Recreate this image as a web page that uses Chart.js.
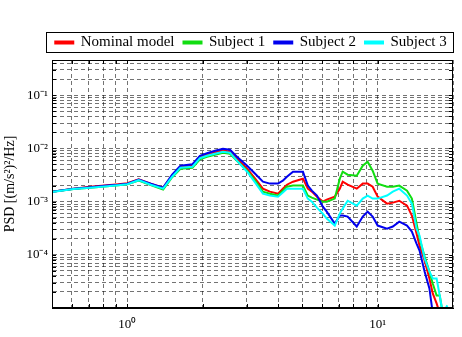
<!DOCTYPE html>
<html>
<head>
<meta charset="utf-8">
<script src="https://cdn.jsdelivr.net/npm/chart.js@4.4.0/dist/chart.umd.min.js"></script>
<style>
  html, body { margin: 0; padding: 0; background: #fff; }
</style>
</head>
<body>
<canvas id="psdChart" width="462" height="337"></canvas>
<script>
//#region data
// frequency (Hz), shared by all four curves
const freq = [0.5, 0.61, 0.71, 0.83, 0.92, 1.0, 1.11, 1.24, 1.39, 1.51,
  1.63, 1.82, 1.95, 2.08, 2.24, 2.41, 2.57, 2.74, 3.01, 3.24,
  3.48, 3.71, 4.0, 4.18, 4.34, 4.59, 5.03, 5.26, 5.46, 5.72,
  6.04, 6.26, 6.74, 7.06, 7.25, 7.59, 8.25, 8.72, 9.12, 9.55,
  10.0, 10.9, 11.5, 12.2, 13.1, 13.7, 14.3, 14.7, 15.4, 16.1,
  16.6, 17.2, 17.7, 18.2, 19.0];

// PSD values [(m/s^2)^2/Hz]
const nominal = [1.54e-3, 1.75e-3, 1.91e-3, 2.04e-3, 2.13e-3, 2.22e-3, 2.64e-3, 2.18e-3, 1.83e-3, 3.07e-3,
  4.54e-3, 4.74e-3, 6.99e-3, 7.79e-3, 8.49e-3, 9.25e-3, 8.67e-3, 6.41e-3, 4.16e-3, 2.70e-3,
  1.75e-3, 1.54e-3, 1.41e-3, 1.75e-3, 2.08e-3, 2.37e-3, 2.70e-3, 1.75e-3, 1.54e-3, 1.24e-3,
  1.00e-3, 1.09e-3, 1.24e-3, 1.75e-3, 2.37e-3, 2.08e-3, 1.75e-3, 2.18e-3, 2.18e-3, 1.91e-3,
  1.24e-3, 9.17e-4, 9.58e-4, 1.04e-3, 8.41e-4, 5.46e-4, 2.51e-4, 1.49e-4, 7.81e-5, 3.59e-5,
  1.88e-5, 1.22e-5, 8e-6, null, null];

const subject1 = [1.54e-3, 1.72e-3, 1.83e-3, 1.95e-3, 2.04e-3, 2.13e-3, 2.48e-3, 2.04e-3, 1.68e-3, 2.88e-3,
  4.16e-3, 4.35e-3, 6.27e-3, 6.99e-3, 7.62e-3, 8.31e-3, 7.96e-3, 5.88e-3, 3.82e-3, 2.48e-3,
  1.54e-3, 1.41e-3, 1.30e-3, 1.61e-3, 1.91e-3, 2.00e-3, 2.00e-3, 1.30e-3, 1.19e-3, 1.09e-3,
  1.00e-3, 1.00e-3, 1.14e-3, 2.70e-3, 3.65e-3, 3.21e-3, 3.07e-3, 4.74e-3, 5.63e-3, 3.82e-3,
  2.18e-3, 1.91e-3, 1.91e-3, 2.00e-3, 1.61e-3, 1.14e-3, 3.87e-4, 2.02e-4, 9.29e-5, 4.86e-5,
  2.89e-5, 1.72e-5, 1.72e-5, 8e-6, null];

const subject2 = [1.54e-3, 1.75e-3, 1.87e-3, 2.00e-3, 2.08e-3, 2.18e-3, 2.59e-3, 2.18e-3, 1.83e-3, 3.21e-3,
  4.74e-3, 5.05e-3, 7.29e-3, 8.13e-3, 9.05e-3, 9.87e-3, 9.45e-3, 6.99e-3, 4.74e-3, 3.35e-3,
  2.37e-3, 2.18e-3, 2.18e-3, 2.48e-3, 2.94e-3, 3.65e-3, 3.65e-3, 2.00e-3, 1.61e-3, 1.30e-3,
  8.06e-4, 6.49e-4, 3.87e-4, 5.46e-4, 5.46e-4, 5.23e-4, 3.40e-4, 5.23e-4, 6.49e-4, 5.23e-4,
  3.55e-4, 3.11e-4, 3.40e-4, 4.21e-4, 3.55e-4, 2.74e-4, 1.63e-4, 1.20e-4, 4.86e-5, 2.33e-5,
  8e-6, null, null, null, null];

const subject3 = [1.51e-3, 1.72e-3, 1.83e-3, 1.95e-3, 2.04e-3, 2.13e-3, 2.53e-3, 2.08e-3, 1.75e-3, 2.94e-3,
  4.35e-3, 4.54e-3, 6.55e-3, 7.29e-3, 7.96e-3, 8.67e-3, 8.31e-3, 5.88e-3, 3.65e-3, 2.27e-3,
  1.41e-3, 1.30e-3, 1.24e-3, 1.48e-3, 1.75e-3, 1.75e-3, 1.75e-3, 1.14e-3, 1.00e-3, 7.72e-4,
  5.95e-4, 4.80e-4, 3.55e-4, 5.95e-4, 7.39e-4, 1.04e-3, 8.41e-4, 1.14e-3, 1.30e-3, 1.14e-3,
  1.14e-3, 1.30e-3, 1.54e-3, 1.75e-3, 1.30e-3, 9.17e-4, 3.11e-4, 2.30e-4, 8.52e-5, 4.86e-5,
  3.59e-5, 3.59e-5, 1.72e-5, 8e-6, 1.12e-5];

const seriesNames = ["Nominal model", "Subject 1", "Subject 2", "Subject 3"];
const seriesColors = ["#ff0000", "#11dd11", "#0000ee", "#00ffff"];

// axis ticks
const xTicks = [0.5, 0.6, 0.7, 0.8, 0.9, 1, 2, 3, 4, 5, 6, 7, 8, 9, 10, 20];
const xLabelValues = [1, 10];
const xLabelTexts = ["10⁰", "10¹"];

const yDecades = [1e-5, 1e-4, 1e-3, 1e-2, 1e-1];
const yLabelValues = [1e-4, 1e-3, 1e-2, 1e-1];
const yLabelTexts = ["10⁻⁴", "10⁻³", "10⁻²", "10⁻¹"];
const yMin = 1e-5;
const yMax = 0.46;
//#endregion

//#region helpers
const serif = "'Liberation Serif', 'Times New Roman', serif";

// find the label text for a tick value (log compare so float noise is ignored)
function labelFor(value, values, texts) {
  for (let i = 0; i < values.length; i++) {
    if (Math.abs(Math.log10(value) - Math.log10(values[i])) < 1e-6) return texts[i];
  }
  return "";
}

// minor log ticks 1..9 in every decade
const yTicks = [];
yDecades.forEach((d) => {
  for (let m = 1; m <= 9; m++) {
    if (m * d <= yMax) yTicks.push(m * d);
  }
});

const allSeries = [nominal, subject1, subject2, subject3];
//#endregion

//#region plugins
// black axis box plus inward tick marks on all four sides
const frameTicks = {
  id: "frameTicks",
  afterDatasetsDraw(chart) {
    const { ctx, chartArea: a, scales } = chart;
    ctx.save();
    ctx.setLineDash([]);
    ctx.strokeStyle = "#000";
    ctx.lineWidth = 1;
    ctx.beginPath();
    scales.x.ticks.forEach((t) => {
      const px = Math.round(scales.x.getPixelForValue(t.value)) + 0.5;
      if (px <= a.left + 1 || px >= a.right - 1) return;
      ctx.moveTo(px, a.bottom);
      ctx.lineTo(px, a.bottom - 4);
      ctx.moveTo(px, a.top);
      ctx.lineTo(px, a.top + 4);
    });
    scales.y.ticks.forEach((t) => {
      const py = Math.round(scales.y.getPixelForValue(t.value)) + 0.5;
      if (py <= a.top + 1 || py >= a.bottom - 1) return;
      ctx.moveTo(a.left, py);
      ctx.lineTo(a.left + 4, py);
      ctx.moveTo(a.right, py);
      ctx.lineTo(a.right - 4, py);
    });
    ctx.stroke();
    ctx.strokeRect(a.left + 0.5, a.top + 0.5, a.right - a.left - 1, a.bottom - a.top - 1);
    ctx.restore();
  },
};

// legend sits over the plot centre rather than the canvas centre, with a box round it
const legendShift = 24;
const legendBox = {
  id: "legendBox",
  afterUpdate(chart) {
    // runs after the legend built its hit boxes, so only the drawing moves
    chart.legend.left += legendShift;
    chart.legend.right += legendShift;
  },
  afterDraw(chart) {
    const boxes = chart.legend.legendHitBoxes;
    if (!boxes || !boxes.length) return;
    const left = Math.min(...boxes.map((b) => b.left)) + legendShift;
    const right = Math.max(...boxes.map((b) => b.left + b.width)) + legendShift;
    const top = Math.min(...boxes.map((b) => b.top));
    const bottom = Math.max(...boxes.map((b) => b.top + b.height));
    const ctx = chart.ctx;
    ctx.save();
    ctx.strokeStyle = "#000";
    ctx.lineWidth = 1;
    ctx.strokeRect(Math.round(left - 9) + 0.5, Math.round(top - 3) + 0.5,
      Math.round(right - left + 16), Math.round(bottom - top + 5));
    ctx.restore();
  },
};
//#endregion

//#region chart
Chart.defaults.font.family = serif;
Chart.defaults.color = "#000";

const gridStyle = {
  color: "rgba(0,0,0,0.55)",
  lineWidth: 1,
  drawTicks: false,
};

new Chart(document.getElementById("psdChart"), {
  type: "line",
  data: {
    datasets: seriesNames.map((name, i) => ({
      label: name,
      data: freq.map((f, k) => ({ x: f, y: allSeries[i][k] })),
      borderColor: seriesColors[i],
      backgroundColor: seriesColors[i],
      borderWidth: 2,
      pointRadius: 0,
      tension: 0,
      order: 4 - i, // cyan drawn last, on top
    })),
  },
  options: {
    responsive: false,
    animation: false,
    layout: { padding: { left: 0, right: 8, top: 26, bottom: 0 } },
    plugins: {
      tooltip: { enabled: false },
      legend: {
        display: true,
        position: "top",
        labels: {
          boxWidth: 18,
          boxHeight: 2,
          padding: 9,
          font: { size: 15, family: serif },
          sort: (a, b) => a.datasetIndex - b.datasetIndex,
        },
      },
    },
    scales: {
      x: {
        type: "logarithmic",
        min: 0.5,
        max: 20,
        grid: gridStyle,
        border: { display: true, color: "#000", dash: [4, 3] },
        afterBuildTicks: (scale) => {
          scale.ticks = xTicks.map((v) => ({ value: v }));
        },
        afterFit: (scale) => {
          scale.height = 29;
        },
        ticks: {
          autoSkip: false,
          maxRotation: 0,
          padding: 9,
          font: { size: 13, family: serif },
          callback: (value) => labelFor(value, xLabelValues, xLabelTexts),
        },
      },
      y: {
        type: "logarithmic",
        min: yMin,
        max: yMax,
        grid: gridStyle,
        border: { display: true, color: "#000", dash: [4, 3] },
        afterBuildTicks: (scale) => {
          scale.ticks = yTicks.map((v) => ({ value: v }));
        },
        afterFit: (scale) => {
          scale.width = 52;
        },
        title: {
          display: true,
          text: "PSD [(m/s²)²/Hz]",
          font: { size: 14, family: serif },
          padding: { top: 2, bottom: 0 },
        },
        ticks: {
          autoSkip: false,
          padding: 4,
          font: { size: 13, family: serif },
          callback: (value) => labelFor(value, yLabelValues, yLabelTexts),
        },
      },
    },
  },
  plugins: [frameTicks, legendBox],
});
//#endregion
</script>
</body>
</html>
